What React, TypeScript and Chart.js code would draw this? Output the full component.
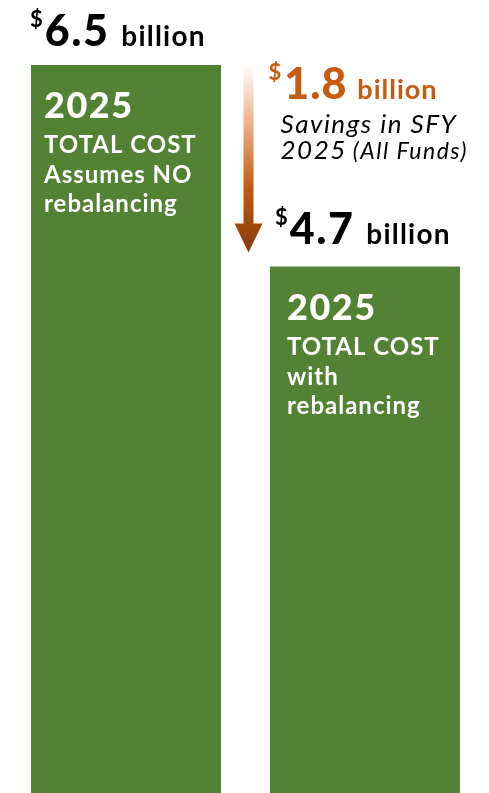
import React, { useEffect, useRef } from "react";
import { Chart, registerables } from "chart.js";

Chart.register(...registerables);

const categories = ["Assumes NO rebalancing", "with rebalancing"];
const totalCost = [6.5, 4.7];
const savings = 1.8;
const barLines = [
  ["2025", "TOTAL COST", "Assumes NO", "rebalancing"],
  ["2025", "TOTAL COST", "with", "rebalancing"],
];
const savingsLine = "Savings in SFY";
const savingsYear = "2025";
const savingsFunds = "(All Funds)";

const GREEN = "#548235";
const ORANGE = "#C55A11";
const FONT = "Lato, 'Open Sans', sans-serif";

type Seg = { t: string; size: number; weight?: string; style?: string; dy?: number; gap?: number; ls?: number };

function drawRich(ctx: any, x: number, y: number, segs: Seg[], color: string) {
  let cx = x;
  ctx.fillStyle = color;
  ctx.textBaseline = "alphabetic";
  ctx.textAlign = "left";
  for (const s of segs) {
    cx += s.gap || 0;
    ctx.font = `${s.style || "normal"} ${s.weight || "bold"} ${s.size}px ${FONT}`;
    ctx.letterSpacing = `${s.ls || 0}px`;
    ctx.fillText(s.t, cx, y + (s.dy || 0));
    cx += ctx.measureText(s.t).width;
  }
  ctx.letterSpacing = "0px";
}

const labelGap = [19, 23];
const labelDx = [-1, 5];
const textDx = [13, 17];
const lineDy = [53, 88, 118, 147];

const overlay = {
  id: "overlay",
  afterDatasetsDraw(chart: any) {
    const ctx: any = chart.ctx;
    const meta = chart.getDatasetMeta(0);
    const ys = chart.scales.y;
    ctx.save();
    meta.data.forEach((bar: any, i: number) => {
      const left = bar.x - bar.width / 2;
      const top = bar.y;
      drawRich(
        ctx,
        left + labelDx[i],
        top - labelGap[i],
        [
          { t: "$", size: 22, dy: -19 },
          { t: totalCost[i].toFixed(1), size: 43, ls: 1.5, gap: 2, weight: "900" },
          { t: "billion", size: 28, ls: 1.2, gap: 12 },
        ],
        "#000"
      );
      const lines = barLines[i];
      ctx.fillStyle = "#fff";
      ctx.font = `900 36px ${FONT}`;
      ctx.letterSpacing = "1.5px";
      ctx.fillText(lines[0], left + textDx[i], top + lineDy[0]);
      ctx.font = `bold 24px ${FONT}`;
      ctx.letterSpacing = "1px";
      for (let k = 1; k < lines.length; k++) {
        ctx.fillText(lines[k], left + textDx[i], top + lineDy[k]);
      }
      ctx.letterSpacing = "0px";
    });

    // arrow
    const b0 = meta.data[0];
    const b1 = meta.data[1];
    const ax = (b0.x + b0.width / 2 + (b1.x - b1.width / 2)) / 2 + 3;
    const yTop = ys.getPixelForValue(totalCost[0]);
    const yTip = ys.getPixelForValue(totalCost[1]) - 14;
    const headH = 29;
    const grad = ctx.createLinearGradient(0, yTop, 0, yTip);
    grad.addColorStop(0, "rgba(255,255,255,1)");
    grad.addColorStop(0.3, "#F0B48C");
    grad.addColorStop(0.65, ORANGE);
    grad.addColorStop(1, "#843C0C");
    ctx.fillStyle = grad;
    ctx.beginPath();
    ctx.moveTo(ax - 5, yTop);
    ctx.lineTo(ax + 5, yTop);
    ctx.lineTo(ax + 5, yTip - headH);
    ctx.lineTo(ax + 14, yTip - headH);
    ctx.lineTo(ax, yTip);
    ctx.lineTo(ax - 14, yTip - headH);
    ctx.lineTo(ax - 5, yTip - headH);
    ctx.closePath();
    ctx.fill();

    // savings text
    const sx = ax + 20;
    drawRich(
      ctx,
      sx,
      yTop + 34,
      [
        { t: "$", size: 22, dy: -19 },
        { t: savings.toFixed(1), size: 43, ls: 1, gap: 3, weight: "900" },
        { t: "billion", size: 27, ls: 1, gap: 10 },
      ],
      ORANGE
    );
    drawRich(
      ctx,
      sx + 12,
      yTop + 68,
      [{ t: savingsLine, size: 26, weight: "normal", style: "italic", ls: 1.5 }],
      "#000"
    );
    drawRich(
      ctx,
      sx + 12,
      yTop + 94,
      [
        { t: savingsYear, size: 26, weight: "normal", style: "italic", ls: 1.5 },
        { t: savingsFunds, size: 23, weight: "normal", style: "italic", ls: 1.5, gap: 6 },
      ],
      "#000"
    );
    ctx.restore();
  },
};

export default function App() {
  const ref = useRef<HTMLCanvasElement>(null);
  useEffect(() => {
    document.body.style.margin = "0";
    const chart = new Chart(ref.current!, {
      type: "bar",
      data: {
        labels: categories,
        datasets: [
          {
            data: totalCost,
            backgroundColor: GREEN,
            borderWidth: 0,
            barPercentage: 0.795,
            categoryPercentage: 1,
          },
        ],
      },
      options: {
        animation: false,
        responsive: false,
        maintainAspectRatio: false,
        layout: { padding: { left: 6.5, right: 4.5, top: 0, bottom: 0 } },
        plugins: { legend: { display: false }, tooltip: { enabled: false } },
        scales: {
          x: { display: false },
          y: { display: false, min: 0, max: 7.08 },
        },
      },
      plugins: [overlay],
    });
    return () => chart.destroy();
  }, []);
  return (
    <div style={{ position: "fixed", left: 0, top: 0, width: 489, height: 793 }}>
      <canvas ref={ref} width={489} height={793} style={{ display: "block" }} />
    </div>
  );
}
